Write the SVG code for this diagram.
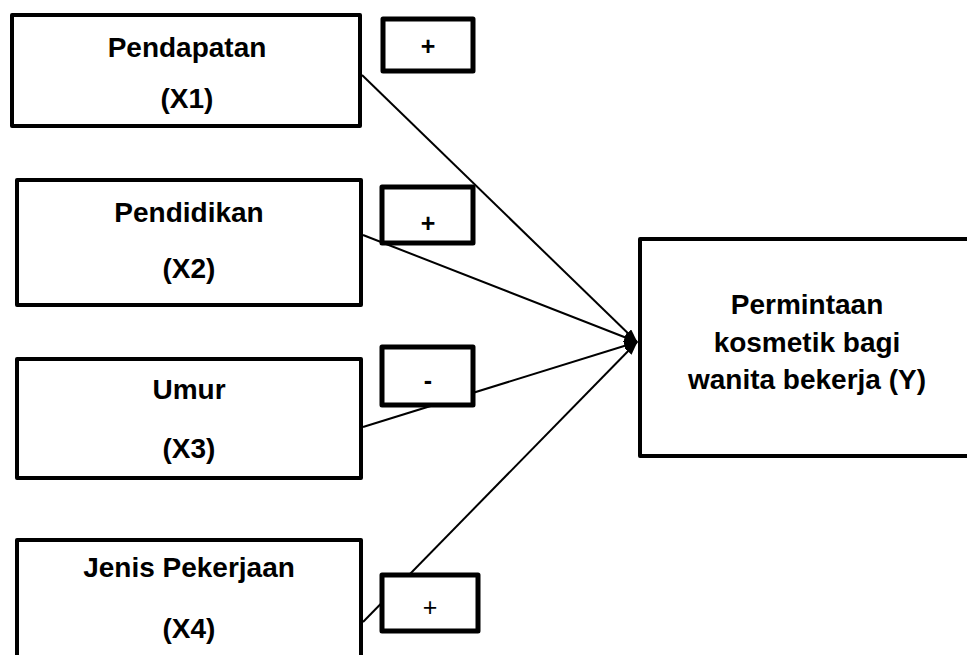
<svg xmlns="http://www.w3.org/2000/svg" width="967" height="655" viewBox="0 0 967 655">
<style>
.box{fill:#fff;stroke:#000;stroke-width:4;stroke-linejoin:round}
.sign{fill:#fff;stroke:#000;stroke-width:5;stroke-linejoin:round}
.t{font-family:"Liberation Sans",Arial,sans-serif;font-weight:bold;font-size:28px;text-anchor:middle;fill:#000}
.s{font-family:"Liberation Sans",Arial,sans-serif;font-weight:bold;font-size:25px;text-anchor:middle;fill:#000}
.sr{font-family:"Liberation Sans",Arial,sans-serif;font-size:25px;text-anchor:middle;fill:#000}
.c{stroke:#000;stroke-width:2;fill:none}
</style>
<defs>
<marker id="ah" markerWidth="14" markerHeight="10" refX="13" refY="5" orient="auto" markerUnits="userSpaceOnUse">
<path d="M0,0 L14,5 L0,10 Z" fill="#000"/>
</marker>
</defs>
<rect width="967" height="655" fill="#fff"/>
<g id="connectors">
<line class="c" x1="362" y1="75" x2="637" y2="342" marker-end="url(#ah)"/>
<line class="c" x1="363" y1="235" x2="637" y2="342" marker-end="url(#ah)"/>
<line class="c" x1="363" y1="427" x2="637" y2="342" marker-end="url(#ah)"/>
<line class="c" x1="363" y1="622" x2="637" y2="342" marker-end="url(#ah)"/>
</g>
<g id="x1">
<rect class="box" x="12" y="15" width="348" height="111"/>
<text class="t" x="187" y="57">Pendapatan</text>
<text class="t" x="187" y="108">(X1)</text>
</g>
<g id="x2">
<rect class="box" x="17" y="180" width="344" height="125"/>
<text class="t" x="189" y="222">Pendidikan</text>
<text class="t" x="189" y="278">(X2)</text>
</g>
<g id="x3">
<rect class="box" x="17" y="359" width="344" height="119"/>
<text class="t" x="189" y="399">Umur</text>
<text class="t" x="189" y="458">(X3)</text>
</g>
<g id="x4">
<rect class="box" x="17" y="540" width="344" height="130"/>
<text class="t" x="189" y="577">Jenis Pekerjaan</text>
<text class="t" x="189" y="638">(X4)</text>
</g>
<g id="y">
<rect class="box" x="640" y="239" width="340" height="217"/>
<text class="t" x="807" y="314">Permintaan</text>
<text class="t" x="807" y="352">kosmetik bagi</text>
<text class="t" x="807" y="389">wanita bekerja (Y)</text>
</g>
<g id="sign1">
<rect class="sign" x="383" y="19" width="90" height="52"/>
<text class="s" x="428" y="55">+</text>
</g>
<g id="sign2">
<rect class="sign" x="382" y="187" width="91" height="56"/>
<text class="s" x="428" y="232">+</text>
</g>
<g id="sign3">
<rect class="sign" x="382" y="347" width="91" height="58"/>
<text class="s" x="428" y="389">-</text>
</g>
<g id="sign4">
<rect class="sign" x="382" y="575" width="96" height="56"/>
<text class="sr" x="430" y="616">+</text>
</g>
</svg>
